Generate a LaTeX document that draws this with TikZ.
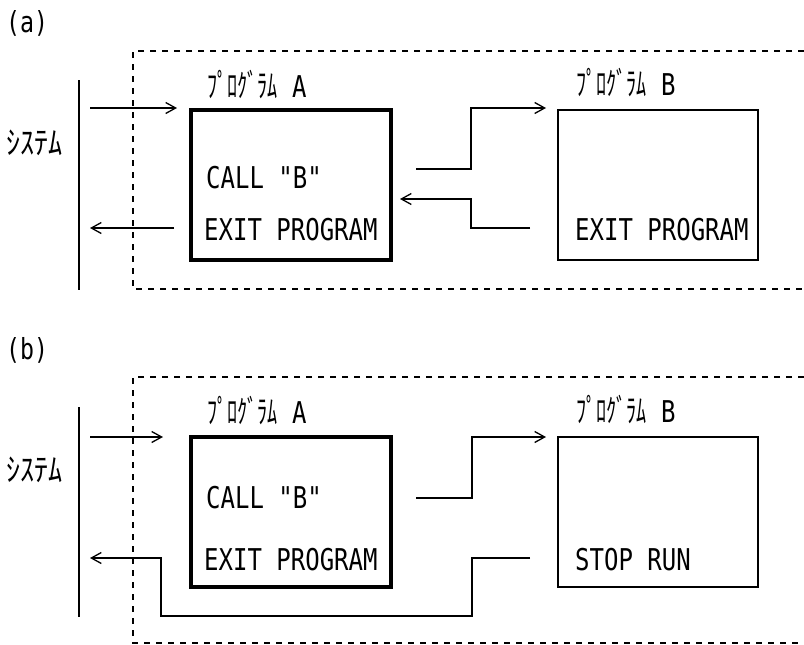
\documentclass[tikz,border=0pt]{standalone}
\usepackage{fontspec}
\usetikzlibrary{arrows.meta}
\newfontfamily\monof[FakeStretch=0.8]{DejaVu Sans Mono}
\newfontfamily\jpf[FakeStretch=0.88]{Noto Sans CJK JP}
\newfontfamily\jpn[FakeStretch=0.63]{Noto Sans CJK JP}
\tikzset{
  txt/.style={anchor=west,inner sep=0pt,font=\monof\fontsize{30}{36}\selectfont},
  jptxt/.style={anchor=west,inner sep=0pt,font=\jpf\fontsize{32}{36}\selectfont},
  plbl/.style={anchor=west,inner sep=0pt,font=\fontsize{32}{36}\selectfont},
  panel/.style={anchor=west,inner sep=0pt,font=\monof\fontsize{29}{34}\selectfont},
  progA/.style={draw,line width=3.5pt,minimum width=200pt,minimum height=150pt,inner sep=0pt},
  progB/.style={draw,line width=1.5pt,minimum width=200pt,minimum height=150pt,inner sep=0pt},
  conn/.style={line width=1.3pt},
  arr/.style={line width=1.3pt,-{Straight Barb[length=10pt,width=11pt,line width=1.3pt]}},
  dashbox/.style={line width=1.3pt,dash pattern=on 6pt off 6pt},
  sysline/.style={line width=1.5pt}
}
\begin{document}
\begin{tikzpicture}[x=1pt,y=-1pt]
\useasboundingbox (0,0) rectangle (804,645);
% ---------------- panel (a)
\node[panel] (pa) at (6,23) {(a)};
\draw[dashbox] (804,51) -| (133,289) -- (804,289);
\coordinate (sysTa) at (79,80);
\coordinate (sysBa) at (79,290);
\draw[sysline] (sysTa) -- (sysBa);
\node[jptxt] (sysa) at (6,143) {ｼｽﾃﾑ};
\node[progA] (Aa) at (291,185) {};
\node[progB] (Ba) at (658,185) {};
\node[plbl] (lAa) at (207,85) {{\jpn ﾌﾟﾛｸﾞﾗﾑ}{\monof\fontsize{30}{36}\selectfont\ A}};
\node[plbl] (lBa) at (576,83) {{\jpn ﾌﾟﾛｸﾞﾗﾑ}{\monof\fontsize{30}{36}\selectfont\ B}};
\node[txt] (callA) at (206,178) {CALL "B"};
\node[txt] (exitA) at (204,230) {EXIT PROGRAM};
\node[txt] (exitB) at (575,230) {EXIT PROGRAM};
\coordinate (inA0) at (90,108);
\coordinate (inA1) at (177,108);
\draw[arr] (inA0) -- (inA1);
\coordinate (outA0) at (174,228);
\coordinate (outA1) at (90,228);
\draw[arr] (outA0) -- (outA1);
\coordinate (cA1) at (416,169);
\coordinate (cA2) at (546,108);
\draw[arr] (cA1) -- ++(55,0) |- (cA2);
\coordinate (rA1) at (530,228);
\coordinate (rA2) at (400,199);
\draw[arr] (rA1) -- ++(-59,0) |- (rA2);
% ---------------- panel (b)
\node[panel] (pb) at (6,350) {(b)};
\draw[dashbox] (804,377) -| (133,643) -- (804,643);
\coordinate (sysTb) at (79,407);
\coordinate (sysBb) at (79,617);
\draw[sysline] (sysTb) -- (sysBb);
\node[jptxt] (sysb) at (6,470) {ｼｽﾃﾑ};
\node[progA] (Ab) at (291,512) {};
\node[progB] (Bb) at (658,512) {};
\node[plbl] (lAb) at (207,411) {{\jpn ﾌﾟﾛｸﾞﾗﾑ}{\monof\fontsize{30}{36}\selectfont\ A}};
\node[plbl] (lBb) at (576,410) {{\jpn ﾌﾟﾛｸﾞﾗﾑ}{\monof\fontsize{30}{36}\selectfont\ B}};
\node[txt] (callB) at (206,498) {CALL "B"};
\node[txt] (exitAb) at (204,560) {EXIT PROGRAM};
\node[txt] (stopB) at (575,560) {STOP RUN};
\coordinate (inB0) at (90,437);
\coordinate (inB1) at (163,437);
\draw[arr] (inB0) -- (inB1);
\coordinate (cB1) at (416,498);
\coordinate (cB2) at (546,437);
\draw[arr] (cB1) -- ++(56,0) |- (cB2);
\coordinate (rB1) at (530,558);
\coordinate (rBc) at (161,616);
\coordinate (rB2) at (90,558);
\draw[arr] (rB1) -- ++(-58,0) |- (rBc) |- (rB2);
\end{tikzpicture}
\end{document}
